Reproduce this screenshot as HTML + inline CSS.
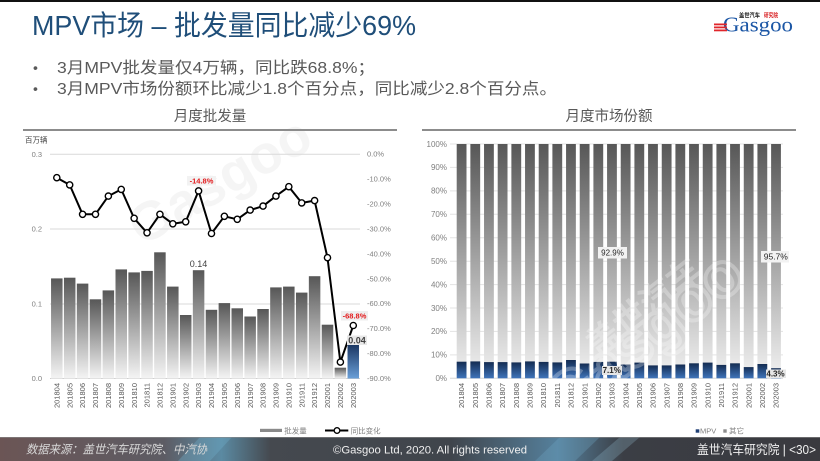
<!DOCTYPE html>
<html><head><meta charset="utf-8"><style>
html,body{margin:0;padding:0;background:#fff;}
body{width:820px;height:461px;overflow:hidden;position:relative;}
svg{position:absolute;left:0;top:0;}
text{font-family:"Liberation Sans","Noto Sans CJK SC",sans-serif;}
</style></head><body>
<svg width="820" height="461" viewBox="0 0 820 461" xmlns="http://www.w3.org/2000/svg">
<defs>
<linearGradient id="gBar" x1="0" y1="0" x2="0" y2="1"><stop offset="0" stop-color="#575757"/><stop offset="1" stop-color="#f4f4f4"/></linearGradient>
<linearGradient id="gBlue" x1="0" y1="0" x2="0" y2="1"><stop offset="0" stop-color="#1b3763"/><stop offset="1" stop-color="#6a9fd8"/></linearGradient>
<linearGradient id="gOther" x1="0" y1="0" x2="0" y2="1"><stop offset="0" stop-color="#575757"/><stop offset="1" stop-color="#f2f2f2"/></linearGradient>
<linearGradient id="gMPV" x1="0" y1="0" x2="0" y2="1"><stop offset="0" stop-color="#142c52"/><stop offset="1" stop-color="#3f74ba"/></linearGradient>
<linearGradient id="gFoot" x1="0" y1="0" x2="1" y2="0">
<stop offset="0" stop-color="#6b5555"/><stop offset="0.2" stop-color="#5d5c64"/><stop offset="0.27" stop-color="#5b8aa2"/><stop offset="0.33" stop-color="#45494f"/><stop offset="0.55" stop-color="#40454c"/><stop offset="0.68" stop-color="#55809c"/><stop offset="0.76" stop-color="#3b3e45"/><stop offset="1" stop-color="#3a3a3f"/></linearGradient>
</defs>

<!-- top border -->
<rect x="0" y="0" width="820" height="2" fill="#111"/>

<!-- watermarks -->
<g opacity="0.5">
<text x="120" y="215" font-size="54" fill="#ececec" font-weight="bold" transform="rotate(-30 190 190)">Gasgoo</text>
</g>

<!-- Title -->
<text x="32" y="35" font-size="28" fill="#1f4e79" textLength="384" lengthAdjust="spacingAndGlyphs">MPV市场 – 批发量同比减少69%</text>

<!-- Logo -->
<text x="739" y="17.5" font-size="6" font-weight="bold" fill="#222" textLength="21" lengthAdjust="spacingAndGlyphs">盖世汽车</text>
<text x="764" y="17.5" font-size="6" font-weight="bold" fill="#d7191c" textLength="14" lengthAdjust="spacingAndGlyphs">研究院</text>
<text x="723" y="31.5" font-size="21" fill="#1b56a5" textLength="70" lengthAdjust="spacingAndGlyphs" style="font-family:'Liberation Serif',serif">Gasgoo</text>
<rect x="714" y="23.5" width="13" height="1.8" fill="#e0262b"/>
<rect x="714" y="26.5" width="13" height="1.8" fill="#e0262b"/>
<rect x="714" y="29.5" width="13" height="1.8" fill="#e0262b"/>

<!-- Bullets -->
<text x="33" y="72.5" font-size="14" fill="#595959">•</text>
<text x="57" y="73" font-size="16" fill="#595959" textLength="318" lengthAdjust="spacingAndGlyphs">3月MPV批发量仅4万辆，同比跌68.8%；</text>
<text x="33" y="93.5" font-size="14" fill="#595959">•</text>
<text x="57" y="94" font-size="16" fill="#595959" textLength="500" lengthAdjust="spacingAndGlyphs">3月MPV市场份额环比减少1.8个百分点，同比减少2.8个百分点。</text>

<!-- Section titles -->
<text x="210" y="121" font-size="14.5" fill="#595959" text-anchor="middle">月度批发量</text>
<text x="609" y="121" font-size="14.5" fill="#595959" text-anchor="middle">月度市场份额</text>
<rect x="23" y="129" width="374" height="2" fill="#8c8c8c"/>
<rect x="422" y="129" width="374" height="2" fill="#8c8c8c"/>

<!-- ============ LEFT CHART ============ -->
<text x="25" y="142.5" font-size="7.5" fill="#404040">百万辆</text>
<g stroke="#d9d9d9" stroke-width="1">
<line x1="50" y1="154.3" x2="360" y2="154.3"/>
<line x1="50" y1="229" x2="360" y2="229"/>
<line x1="50" y1="304" x2="360" y2="304"/>
<line x1="50" y1="378.5" x2="360" y2="378.5" stroke="#cfcfcf"/>
</g>
<g font-size="7.5" fill="#7f7f7f" text-anchor="end">
<text x="42" y="157">0.3</text>
<text x="42" y="231.7">0.2</text>
<text x="42" y="306.7">0.1</text>
<text x="42" y="381.2">0.0</text>
</g>
<g font-size="7.5" fill="#7f7f7f">
<text x="367" y="156.6">0.0%</text>
<text x="367" y="181.5">-10.0%</text>
<text x="367" y="206.5">-20.0%</text>
<text x="367" y="231.4">-30.0%</text>
<text x="367" y="256.3">-40.0%</text>
<text x="367" y="281.3">-50.0%</text>
<text x="367" y="306.2">-60.0%</text>
<text x="367" y="331.1">-70.0%</text>
<text x="367" y="356">-80.0%</text>
<text x="367" y="380.9">-90.0%</text>
</g>
<g fill="url(#gBar)">
<rect x="51.05" y="278.4" width="11.5" height="100.1"/>
<rect x="63.94" y="277.7" width="11.5" height="100.8"/>
<rect x="76.83" y="283.6" width="11.5" height="94.9"/>
<rect x="89.72" y="299.3" width="11.5" height="79.2"/>
<rect x="102.61" y="290.4" width="11.5" height="88.1"/>
<rect x="115.5" y="269.4" width="11.5" height="109.1"/>
<rect x="128.39" y="272.4" width="11.5" height="106.1"/>
<rect x="141.28" y="270.9" width="11.5" height="107.6"/>
<rect x="154.17" y="252.3" width="11.5" height="126.2"/>
<rect x="167.06" y="286.6" width="11.5" height="91.9"/>
<rect x="179.95" y="315" width="11.5" height="63.5"/>
<rect x="192.84" y="270.2" width="11.5" height="108.3"/>
<rect x="205.73" y="309.8" width="11.5" height="68.7"/>
<rect x="218.62" y="303.1" width="11.5" height="75.4"/>
<rect x="231.51" y="308.3" width="11.5" height="70.2"/>
<rect x="244.4" y="316.5" width="11.5" height="62"/>
<rect x="257.29" y="309" width="11.5" height="69.5"/>
<rect x="270.18" y="287.4" width="11.5" height="91.1"/>
<rect x="283.07" y="286.6" width="11.5" height="91.9"/>
<rect x="295.96" y="292.6" width="11.5" height="85.9"/>
<rect x="308.85" y="276.2" width="11.5" height="102.3"/>
<rect x="321.74" y="324.7" width="11.5" height="53.8"/>
<rect x="334.63" y="367.7" width="11.5" height="10.8"/>
</g>
<rect x="347.52" y="344.9" width="11.5" height="33.6" fill="url(#gBlue)"/>

<polyline fill="none" stroke="#000" stroke-width="2" stroke-linejoin="round" points="56.8,177.7 69.69,184.9 82.58,214.3 95.47,214.3 108.36,196.1 121.25,189.4 134.14,218.3 147.03,232.8 159.92,214.3 172.81,223.8 185.7,221.8 198.59,190.9 211.48,233.5 224.37,216.3 237.26,219.3 250.15,210.1 263.04,206.1 275.93,196.1 288.82,186.7 301.71,202.9 314.6,200.6 327.49,257.7 340.38,362.1 353.27,325.5"/>
<g fill="#fff" stroke="#000" stroke-width="1.4">
<circle cx="56.8" cy="177.7" r="3.1"/><circle cx="69.69" cy="184.9" r="3.1"/><circle cx="82.58" cy="214.3" r="3.1"/><circle cx="95.47" cy="214.3" r="3.1"/><circle cx="108.36" cy="196.1" r="3.1"/><circle cx="121.25" cy="189.4" r="3.1"/><circle cx="134.14" cy="218.3" r="3.1"/><circle cx="147.03" cy="232.8" r="3.1"/><circle cx="159.92" cy="214.3" r="3.1"/><circle cx="172.81" cy="223.8" r="3.1"/><circle cx="185.7" cy="221.8" r="3.1"/><circle cx="198.59" cy="190.9" r="3.1"/><circle cx="211.48" cy="233.5" r="3.1"/><circle cx="224.37" cy="216.3" r="3.1"/><circle cx="237.26" cy="219.3" r="3.1"/><circle cx="250.15" cy="210.1" r="3.1"/><circle cx="263.04" cy="206.1" r="3.1"/><circle cx="275.93" cy="196.1" r="3.1"/><circle cx="288.82" cy="186.7" r="3.1"/><circle cx="301.71" cy="202.9" r="3.1"/><circle cx="314.6" cy="200.6" r="3.1"/><circle cx="327.49" cy="257.7" r="3.1"/><circle cx="340.38" cy="362.1" r="3.1"/><circle cx="353.27" cy="325.5" r="3.1"/>
</g>
<!-- data labels left -->
<rect x="187" y="176" width="29" height="9.5" fill="#f2f2f2"/>
<text x="201.5" y="183.5" font-size="7.5" font-weight="bold" fill="#e31a1c" text-anchor="middle">-14.8%</text>
<text x="198.5" y="266.8" font-size="9" fill="#404040" text-anchor="middle">0.14</text>
<rect x="341" y="311" width="27" height="9.5" fill="#eeeeee"/>
<text x="354.5" y="318.5" font-size="7.5" font-weight="bold" fill="#e31a1c" text-anchor="middle">-68.8%</text>
<rect x="347" y="335.5" width="20" height="9.5" fill="#e8e8e8"/>
<text x="357" y="343.5" font-size="9" font-weight="bold" fill="#404040" text-anchor="middle">0.04</text>

<g font-size="7.5" fill="#595959" text-anchor="end">
<text transform="translate(56.8,383) rotate(-90)" dy="0.35em">201804</text>
<text transform="translate(69.69,383) rotate(-90)" dy="0.35em">201805</text>
<text transform="translate(82.58,383) rotate(-90)" dy="0.35em">201806</text>
<text transform="translate(95.47,383) rotate(-90)" dy="0.35em">201807</text>
<text transform="translate(108.36,383) rotate(-90)" dy="0.35em">201808</text>
<text transform="translate(121.25,383) rotate(-90)" dy="0.35em">201809</text>
<text transform="translate(134.14,383) rotate(-90)" dy="0.35em">201810</text>
<text transform="translate(147.03,383) rotate(-90)" dy="0.35em">201811</text>
<text transform="translate(159.92,383) rotate(-90)" dy="0.35em">201812</text>
<text transform="translate(172.81,383) rotate(-90)" dy="0.35em">201901</text>
<text transform="translate(185.7,383) rotate(-90)" dy="0.35em">201902</text>
<text transform="translate(198.59,383) rotate(-90)" dy="0.35em">201903</text>
<text transform="translate(211.48,383) rotate(-90)" dy="0.35em">201904</text>
<text transform="translate(224.37,383) rotate(-90)" dy="0.35em">201905</text>
<text transform="translate(237.26,383) rotate(-90)" dy="0.35em">201906</text>
<text transform="translate(250.15,383) rotate(-90)" dy="0.35em">201907</text>
<text transform="translate(263.04,383) rotate(-90)" dy="0.35em">201908</text>
<text transform="translate(275.93,383) rotate(-90)" dy="0.35em">201909</text>
<text transform="translate(288.82,383) rotate(-90)" dy="0.35em">201910</text>
<text transform="translate(301.71,383) rotate(-90)" dy="0.35em">201911</text>
<text transform="translate(314.6,383) rotate(-90)" dy="0.35em">201912</text>
<text transform="translate(327.49,383) rotate(-90)" dy="0.35em">202001</text>
<text transform="translate(340.38,383) rotate(-90)" dy="0.35em">202002</text>
<text transform="translate(353.27,383) rotate(-90)" dy="0.35em">202003</text>
</g>
<!-- left legend -->
<rect x="260" y="428.8" width="22" height="3.2" fill="#8a8a8a"/>
<text x="284.3" y="433.5" font-size="7.5" fill="#7f7f7f">批发量</text>
<line x1="325" y1="430.5" x2="348.3" y2="430.5" stroke="#000" stroke-width="2"/>
<circle cx="337" cy="430.5" r="2.8" fill="#fff" stroke="#000" stroke-width="1.3"/>
<text x="350.7" y="433.5" font-size="7.5" fill="#7f7f7f">同比变化</text>

<!-- ============ RIGHT CHART ============ -->
<g stroke="#e3e3e3" stroke-width="1">
<line x1="450" y1="144" x2="783" y2="144"/><line x1="450" y1="167.4" x2="783" y2="167.4"/><line x1="450" y1="190.9" x2="783" y2="190.9"/><line x1="450" y1="214.3" x2="783" y2="214.3"/><line x1="450" y1="237.7" x2="783" y2="237.7"/><line x1="450" y1="261.2" x2="783" y2="261.2"/><line x1="450" y1="284.6" x2="783" y2="284.6"/><line x1="450" y1="308" x2="783" y2="308"/><line x1="450" y1="331.4" x2="783" y2="331.4"/><line x1="450" y1="354.9" x2="783" y2="354.9"/><line x1="450" y1="378.3" x2="783" y2="378.3" stroke="#d6d6d6"/>
</g>
<g font-size="8" fill="#7f7f7f" text-anchor="end">
<text x="447" y="146.8">100%</text><text x="447" y="170.2">90%</text><text x="447" y="193.7">80%</text><text x="447" y="217.1">70%</text><text x="447" y="240.5">60%</text><text x="447" y="264">50%</text><text x="447" y="287.4">40%</text><text x="447" y="310.8">30%</text><text x="447" y="334.2">20%</text><text x="447" y="357.7">10%</text><text x="447" y="381.1">0%</text>
</g>
<g fill="url(#gOther)">
<rect x="456.7" y="144" width="9.8" height="234.3"/><rect x="470.37" y="144" width="9.8" height="234.3"/><rect x="484.04" y="144" width="9.8" height="234.3"/><rect x="497.71" y="144" width="9.8" height="234.3"/><rect x="511.38" y="144" width="9.8" height="234.3"/><rect x="525.05" y="144" width="9.8" height="234.3"/><rect x="538.72" y="144" width="9.8" height="234.3"/><rect x="552.39" y="144" width="9.8" height="234.3"/><rect x="566.06" y="144" width="9.8" height="234.3"/><rect x="579.73" y="144" width="9.8" height="234.3"/><rect x="593.4" y="144" width="9.8" height="234.3"/><rect x="607.07" y="144" width="9.8" height="234.3"/><rect x="620.74" y="144" width="9.8" height="234.3"/><rect x="634.41" y="144" width="9.8" height="234.3"/><rect x="648.08" y="144" width="9.8" height="234.3"/><rect x="661.75" y="144" width="9.8" height="234.3"/><rect x="675.42" y="144" width="9.8" height="234.3"/><rect x="689.09" y="144" width="9.8" height="234.3"/><rect x="702.76" y="144" width="9.8" height="234.3"/><rect x="716.43" y="144" width="9.8" height="234.3"/><rect x="730.1" y="144" width="9.8" height="234.3"/><rect x="743.77" y="144" width="9.8" height="234.3"/><rect x="757.44" y="144" width="9.8" height="234.3"/><rect x="771.11" y="144" width="9.8" height="234.3"/>
</g>
<g fill="url(#gMPV)">
<rect x="456.7" y="361.7" width="9.8" height="16.6"/>
<rect x="470.37" y="361.4" width="9.8" height="16.9"/>
<rect x="484.04" y="362.1" width="9.8" height="16.2"/>
<rect x="497.71" y="362.1" width="9.8" height="16.2"/>
<rect x="511.38" y="362.4" width="9.8" height="15.9"/>
<rect x="525.05" y="361.4" width="9.8" height="16.9"/>
<rect x="538.72" y="361.9" width="9.8" height="16.4"/>
<rect x="552.39" y="362.4" width="9.8" height="15.9"/>
<rect x="566.06" y="360" width="9.8" height="18.3"/>
<rect x="579.73" y="363.5" width="9.8" height="14.8"/>
<rect x="593.4" y="361.9" width="9.8" height="16.4"/>
<rect x="607.07" y="361.7" width="9.8" height="16.6"/>
<rect x="620.74" y="364.5" width="9.8" height="13.8"/>
<rect x="634.41" y="362.6" width="9.8" height="15.7"/>
<rect x="648.08" y="365.4" width="9.8" height="12.9"/>
<rect x="661.75" y="365.4" width="9.8" height="12.9"/>
<rect x="675.42" y="364.5" width="9.8" height="13.8"/>
<rect x="689.09" y="363.3" width="9.8" height="15"/>
<rect x="702.76" y="362.6" width="9.8" height="15.7"/>
<rect x="716.43" y="364.9" width="9.8" height="13.4"/>
<rect x="730.1" y="363.3" width="9.8" height="15"/>
<rect x="743.77" y="367.1" width="9.8" height="11.2"/>
<rect x="757.44" y="364" width="9.8" height="14.3"/>
<rect x="771.11" y="368.2" width="9.8" height="10.1"/>
</g>
<!-- watermark right -->
<g opacity="0.28" fill="#fff" font-weight="bold">
<text x="560" y="330" font-size="34" transform="rotate(-38 620 290)">盖世汽车</text>
<text x="520" y="370" font-size="62" fill="none" stroke="#fff" stroke-width="4" transform="rotate(-38 620 330)">Gasgoo</text>
</g>
<!-- right data labels -->
<rect x="598" y="247" width="29" height="11.5" fill="#f2f2f2"/>
<text x="612.5" y="255.6" font-size="8" fill="#262626" text-anchor="middle">92.9%</text>
<rect x="761" y="251" width="28" height="11.5" fill="#f2f2f2"/>
<text x="775.8" y="259.6" font-size="8.5" fill="#262626" text-anchor="middle">95.7%</text>
<rect x="602" y="366" width="20" height="9" fill="#e6e6e6"/>
<text x="611.7" y="373.2" font-size="8" font-weight="bold" fill="#262626" text-anchor="middle">7.1%</text>
<rect x="766" y="369.5" width="20" height="8.5" fill="#e6e6e6"/>
<text x="775.5" y="376.6" font-size="8" font-weight="bold" fill="#262626" text-anchor="middle">4.3%</text>

<g font-size="7.5" fill="#595959" text-anchor="end">
<text transform="translate(461.6,383) rotate(-90)" dy="0.35em">201804</text>
<text transform="translate(475.27,383) rotate(-90)" dy="0.35em">201805</text>
<text transform="translate(488.94,383) rotate(-90)" dy="0.35em">201806</text>
<text transform="translate(502.61,383) rotate(-90)" dy="0.35em">201807</text>
<text transform="translate(516.28,383) rotate(-90)" dy="0.35em">201808</text>
<text transform="translate(529.95,383) rotate(-90)" dy="0.35em">201809</text>
<text transform="translate(543.62,383) rotate(-90)" dy="0.35em">201810</text>
<text transform="translate(557.29,383) rotate(-90)" dy="0.35em">201811</text>
<text transform="translate(570.96,383) rotate(-90)" dy="0.35em">201812</text>
<text transform="translate(584.63,383) rotate(-90)" dy="0.35em">201901</text>
<text transform="translate(598.3,383) rotate(-90)" dy="0.35em">201902</text>
<text transform="translate(611.97,383) rotate(-90)" dy="0.35em">201903</text>
<text transform="translate(625.64,383) rotate(-90)" dy="0.35em">201904</text>
<text transform="translate(639.31,383) rotate(-90)" dy="0.35em">201905</text>
<text transform="translate(652.98,383) rotate(-90)" dy="0.35em">201906</text>
<text transform="translate(666.65,383) rotate(-90)" dy="0.35em">201907</text>
<text transform="translate(680.32,383) rotate(-90)" dy="0.35em">201908</text>
<text transform="translate(693.99,383) rotate(-90)" dy="0.35em">201909</text>
<text transform="translate(707.66,383) rotate(-90)" dy="0.35em">201910</text>
<text transform="translate(721.33,383) rotate(-90)" dy="0.35em">201911</text>
<text transform="translate(735,383) rotate(-90)" dy="0.35em">201912</text>
<text transform="translate(748.67,383) rotate(-90)" dy="0.35em">202001</text>
<text transform="translate(762.34,383) rotate(-90)" dy="0.35em">202002</text>
<text transform="translate(776.01,383) rotate(-90)" dy="0.35em">202003</text>
</g>
<!-- right legend -->
<rect x="695.7" y="429.3" width="3.6" height="3.4" fill="#1f3f74"/>
<text x="700" y="433.6" font-size="7.5" fill="#7f7f7f">MPV</text>
<rect x="723.3" y="429.3" width="3.4" height="3.4" fill="#8c8c8c"/>
<text x="729" y="433.6" font-size="7.5" fill="#7f7f7f">其它</text>

<!-- ============ FOOTER ============ -->
<rect x="0" y="437" width="820" height="24" fill="url(#gFoot)"/>
<polygon points="200,437 232,437 210,461 178,461" fill="#6fb0cc" opacity="0.35"/>
<polygon points="560,437 600,437 575,461 535,461" fill="#6fa8c8" opacity="0.3"/>
<polygon points="620,437 640,437 612,461 592,461" fill="#9cc6dc" opacity="0.25"/>
<rect x="0" y="437" width="820" height="1" fill="#8a8a8a" opacity="0.6"/>
<text x="26" y="453.5" font-size="12" font-style="italic" fill="#d8d8d8" textLength="181" lengthAdjust="spacingAndGlyphs">数据来源：盖世汽车研究院、中汽协</text>
<text x="333" y="453.5" font-size="11" fill="#f0f0f0" textLength="194" lengthAdjust="spacingAndGlyphs">©Gasgoo Ltd, 2020. All rights reserved</text>
<text x="697" y="453.8" font-size="12.5" fill="#f0f0f0" textLength="119" lengthAdjust="spacingAndGlyphs">盖世汽车研究院 | &lt;30&gt;</text>
</svg>
</body></html>
